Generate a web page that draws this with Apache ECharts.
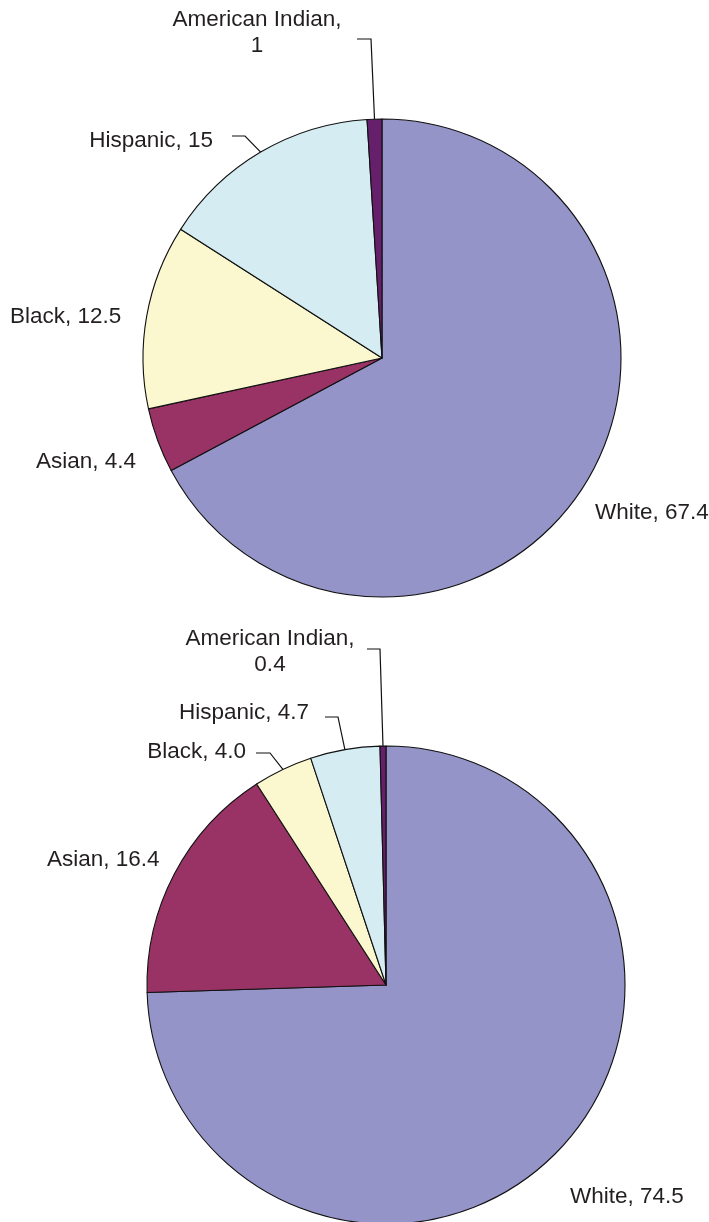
<!DOCTYPE html>
<html><head><meta charset="utf-8">
<script src="https://cdn.jsdelivr.net/npm/echarts@6/dist/echarts.min.js"></script>
<style>html,body{margin:0;padding:0;background:#fff}#c{width:709px;height:1222px}</style>
</head><body><div id="c"></div>
<script>
const categories = ['White','Asian','Black','Hispanic','American Indian'];
const valuesTop = [67.4, 4.4, 12.5, 15, 1];
const valuesBottom = [74.5, 16.4, 4.0, 4.7, 0.4];
const valueTextTop = ['67.4','4.4','12.5','15','1'];
const valueTextBottom = ['74.5','16.4','4.0','4.7','0.4'];
const colors = ['#9494c8','#993366','#fbf8cf','#d4ecf2','#66206b'];

const layoutTop = {
  'White': {x:595, y:513, align:'left'},
  'Asian': {x:36, y:462, align:'left'},
  'Black': {x:10, y:317, align:'left'},
  'Hispanic': {x:213, y:141, align:'right', line:[[245,136],[232,136]]},
  'American Indian': {x:257, y:33, align:'center', line:[[371,39],[357,39]]}
};
const layoutBottom = {
  'White': {x:570, y:1197, align:'left'},
  'Asian': {x:47, y:860, align:'left'},
  'Black': {x:246, y:752, align:'right', line:[[270,753],[256,753]]},
  'Hispanic': {x:309, y:713, align:'right', line:[[338,717],[325,717]]},
  'American Indian': {x:270, y:652, align:'center', line:[[380,649],[367,649]]}
};
const layouts = [layoutTop, layoutBottom];

function makeData(values, texts, layout) {
  return categories.map((name, i) => ({
    name: name,
    value: values[i],
    labelText: texts[i],
    itemStyle: {color: colors[i]},
    labelLine: {show: !!layout[name].line}
  }));
}

function makeSeries(values, texts, layout, center) {
  return {
    type: 'pie',
    center: center,
    radius: 239,
    startAngle: 90,
    clockwise: true,
    avoidLabelOverlap: false,
    silent: true,
    itemStyle: {borderColor: '#111', borderWidth: 1.1},
    label: {
      show: true,
      position: 'outside',
      alignTo: 'none',
      fontFamily: 'Liberation Sans, Arial, sans-serif',
      fontSize: 22.5,
      lineHeight: 26,
      color: '#231f20',
      formatter: function (p) {
        return p.name === 'American Indian'
          ? p.name + ',\n' + p.data.labelText
          : p.name + ', ' + p.data.labelText;
      }
    },
    labelLine: {show: false, lineStyle: {color: '#111', width: 1.2}},
    labelLayout: function (params) {
      const L = layouts[params.seriesIndex][categories[params.dataIndex]];
      const r = {x: L.x, y: L.y, align: L.align, verticalAlign: 'middle'};
      if (L.line && params.labelLinePoints) {
        r.labelLinePoints = [params.labelLinePoints[0], L.line[0], L.line[1]];
      }
      return r;
    },
    data: makeData(values, texts, layout)
  };
}

const chart = echarts.init(document.getElementById('c'));
chart.setOption({
  animation: false,
  backgroundColor: '#ffffff',
  series: [
    makeSeries(valuesTop, valueTextTop, layoutTop, [382, 358]),
    makeSeries(valuesBottom, valueTextBottom, layoutBottom, [386, 985])
  ]
});
</script>
</body></html>
